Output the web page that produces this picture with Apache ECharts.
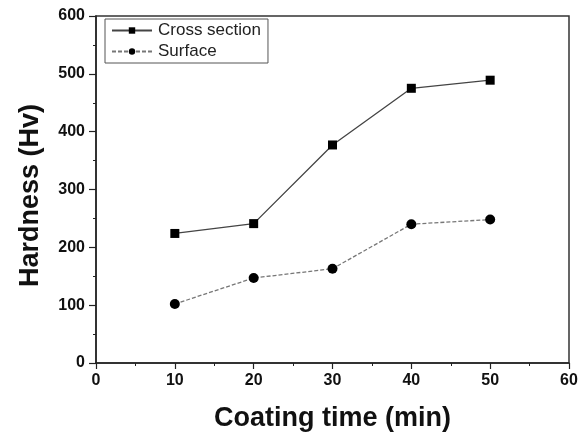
<!DOCTYPE html>
<html><head><meta charset="utf-8">
<script src="https://cdn.jsdelivr.net/npm/echarts@6/dist/echarts.min.js"></script>
<style>html,body{margin:0;padding:0;background:#fff}#c{width:587px;height:437px}</style>
</head><body><div id="c"></div>
<script>
var times = [10, 20, 30, 40, 50];
var crossSection = [224, 241, 377, 475, 489];
var surface = [102, 147, 163, 240, 248];
var seriesNames = ['Cross section', 'Surface'];

function pairs(xs, ys){ return xs.map(function(x,i){return [x, ys[i]];}); }

var chart = echarts.init(document.getElementById('c'), null, {renderer:'canvas'});
var font = 'Liberation Sans, Arial, sans-serif';
chart.setOption({
  animation:false,
  backgroundColor:'#fff',
  grid:{left:96,right:18,top:16,bottom:74,show:true,borderColor:'#333',borderWidth:1.5},
  legend:{
    left:105, top:19, orient:'vertical', itemWidth:40, itemHeight:8, itemGap:4,
    padding:[3,7,3,6], borderColor:'#555', borderWidth:1, backgroundColor:'#fff',
    textStyle:{fontFamily:font,fontSize:17,color:'#222',padding:[0,0,0,1]},
    data:seriesNames
  },
  xAxis:{
    type:'value', min:0, max:60, interval:10,
    name:'Coating time (min)', nameLocation:'middle', nameGap:42,
    nameTextStyle:{fontFamily:font,fontSize:27,fontWeight:'bold',color:'#111'},
    axisLine:{show:true,onZero:false,lineStyle:{color:'#222',width:1.5}},
    axisTick:{show:true,inside:false,length:6,lineStyle:{color:'#222',width:1.2}},
    minorTick:{show:true,splitNumber:2,length:3,lineStyle:{color:'#222',width:1}},
    axisLabel:{fontFamily:font,fontSize:16,fontWeight:'bold',color:'#111',margin:10},
    splitLine:{show:false}
  },
  yAxis:{
    type:'value', min:0, max:600, interval:100,
    name:'Hardness (Hv)', nameLocation:'middle', nameGap:52,
    nameTextStyle:{fontFamily:font,fontSize:27,fontWeight:'bold',color:'#111',padding:[0,12,0,0]},
    axisLine:{show:true,onZero:false,lineStyle:{color:'#222',width:1.5}},
    axisTick:{show:true,inside:false,length:7,lineStyle:{color:'#222',width:1.2}},
    minorTick:{show:true,splitNumber:2,length:3,lineStyle:{color:'#222',width:1}},
    axisLabel:{fontFamily:font,fontSize:16,fontWeight:'bold',color:'#111',margin:11},
    splitLine:{show:false}
  },
  series:[
    {name:seriesNames[0], type:'line', data:pairs(times,crossSection),
     symbol:'rect', symbolSize:9,
     itemStyle:{color:'#000'}, lineStyle:{color:'#444',width:1.3,type:'solid'}},
    {name:seriesNames[1], type:'line', data:pairs(times,surface),
     symbol:'circle', symbolSize:10,
     itemStyle:{color:'#000'}, lineStyle:{color:'#777',width:1.3,type:[4,2]}}
  ]
});
</script></body></html>
